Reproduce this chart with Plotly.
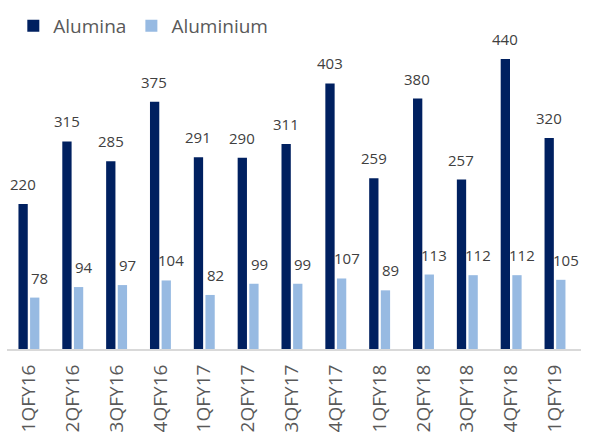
import plotly.graph_objects as go

quarters = ["1QFY16", "2QFY16", "3QFY16", "4QFY16", "1QFY17", "2QFY17", "3QFY17",
            "4QFY17", "1QFY18", "2QFY18", "3QFY18", "4QFY18", "1QFY19"]
alumina = [220, 315, 285, 375, 291, 290, 311, 403, 259, 380, 257, 440, 320]
aluminium = [78, 94, 97, 104, 82, 99, 99, 107, 89, 113, 112, 112, 105]

C_ALUMINA = "#002060"
C_ALUMINIUM = "#97BAE2"
FONT = "Open Sans"

fig = go.Figure()
fig.add_trace(go.Bar(x=quarters, y=alumina, name="Alumina",
                     marker=dict(color=C_ALUMINA, line=dict(width=0))))
fig.add_trace(go.Bar(x=quarters, y=aluminium, name="Aluminium",
                     marker=dict(color=C_ALUMINIUM, line=dict(width=0))))

annotations = []
for q, v in zip(quarters, alumina):
    annotations.append(dict(x=q, y=v, text=str(v), showarrow=False, xref="x", yref="y",
                            yanchor="middle", xshift=-6, yshift=20,
                            font=dict(family=FONT, size=15, color="#404040")))
for q, v in zip(quarters, aluminium):
    annotations.append(dict(x=q, y=v, text=str(v), showarrow=False, xref="x", yref="y",
                            yanchor="middle", xshift=11, yshift=20,
                            font=dict(family=FONT, size=15, color="#404040")))

fig.update_layout(
    width=595, height=432,
    margin=dict(l=7, r=14, t=30, b=83, autoexpand=False),
    paper_bgcolor="white", plot_bgcolor="white",
    barmode="group", bargap=0.47, bargroupgap=0.2,
    font=dict(family=FONT, color="#595959"),
    showlegend=True,
    legend=dict(orientation="h", x=0.011, xanchor="left", y=1.013, yanchor="middle",
                font=dict(family=FONT, size=19, color="#595959"),
                itemwidth=30, traceorder="normal"),
    annotations=annotations,
    xaxis=dict(type="category", showline=True, linecolor="#D9D9D9", linewidth=2,
               showgrid=False, ticks="", tickangle=-90, automargin=False,
               tickfont=dict(family=FONT, size=19, color="#595959"),
               ticklabelstandoff=6),
    yaxis=dict(range=[0, 484], visible=False, showgrid=False, zeroline=False),
)

fig.write_html("out.html")
